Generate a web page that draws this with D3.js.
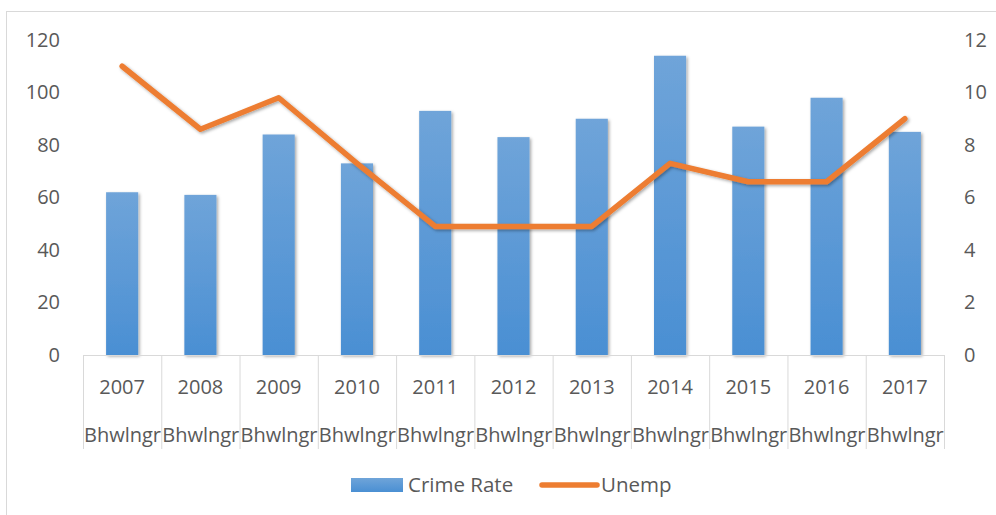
<!DOCTYPE html>
<html>
<head>
<meta charset="utf-8">
<script src="https://cdn.jsdelivr.net/npm/d3@7"></script>
<style>
  body { margin: 0; background: #fff; }
  text { font-family: "Open Sans", "Liberation Sans", sans-serif; fill: #595959; }
</style>
</head>
<body>
<svg width="996" height="515"></svg>
<script>
// chart data
const years = ['2007','2008','2009','2010','2011','2012','2013','2014','2015','2016','2017'];
const place = 'Bhwlngr';
const crimeRate = [62, 61, 84, 73, 93, 83, 90, 114, 87, 98, 85];
const unemp = [11.0, 8.6, 9.8, 7.3, 4.9, 4.9, 4.9, 7.3, 6.6, 6.6, 9.0];
const leftTicks = [0, 20, 40, 60, 80, 100, 120];
const rightTicks = [0, 2, 4, 6, 8, 10, 12];

const svg = d3.select('svg');

// outer chart frame
svg.append('rect')
  .attr('x', 6.5).attr('y', 11.5)
  .attr('width', 1000).attr('height', 520)
  .attr('fill', 'none').attr('stroke', '#d9d9d9');

const defs = svg.append('defs');
const grad = defs.append('linearGradient')
  .attr('id', 'barGrad').attr('x1', 0).attr('y1', 0).attr('x2', 0).attr('y2', 1);
grad.append('stop').attr('offset', '0%').attr('stop-color', '#6fa4d9');
grad.append('stop').attr('offset', '100%').attr('stop-color', '#4a8fd3');

const shadow = defs.append('filter').attr('id', 'shadow')
  .attr('x', '-20%').attr('y', '-20%').attr('width', '150%').attr('height', '150%');
shadow.append('feDropShadow')
  .attr('dx', 1.5).attr('dy', 1.5).attr('stdDeviation', 1.5)
  .attr('flood-color', '#000').attr('flood-opacity', 0.35);

const x = d3.scaleBand()
  .domain(years)
  .range([83, 944])
  .paddingInner(0.59)
  .paddingOuter(0.295);

const xc = d3.scaleBand().domain(years).range([83, 944]);

const y = d3.scaleLinear().domain([0, 120]).range([355, 40]);
const y2 = d3.scaleLinear().domain([0, 12]).range([355, 40]);

// left axis labels
svg.append('g')
  .attr('transform', 'translate(60,0)')
  .call(d3.axisLeft(y).tickValues(leftTicks).tickSize(0).tickPadding(0))
  .call(g => g.select('.domain').remove())
  .selectAll('text').style('font-size', '20px').attr('text-anchor', 'end');

// right axis labels
svg.append('g')
  .attr('transform', 'translate(964,0)')
  .call(d3.axisRight(y2).tickValues(rightTicks).tickSize(0).tickPadding(0))
  .call(g => g.select('.domain').remove())
  .selectAll('text').style('font-size', '20px').attr('text-anchor', 'start');

// bars
svg.append('g').selectAll('rect')
  .data(crimeRate)
  .enter()
  .append('rect')
    .attr('x', (d, i) => x(years[i]))
    .attr('y', d => y(d))
    .attr('width', x.bandwidth())
    .attr('height', d => y(0) - y(d))
    .attr('fill', 'url(#barGrad)')
    .attr('filter', 'url(#shadow)');

// category axis
const cat = svg.append('g');
cat.append('line')
  .attr('x1', 83).attr('x2', 944)
  .attr('y1', y(0) + 0.5).attr('y2', y(0) + 0.5)
  .attr('stroke', '#d9d9d9');
cat.selectAll('line.sep')
  .data(years.concat(['end']))
  .enter()
  .append('line')
    .attr('class', 'sep')
    .attr('x1', (d, i) => 83 + i * xc.bandwidth() + 0.5)
    .attr('x2', (d, i) => 83 + i * xc.bandwidth() + 0.5)
    .attr('y1', y(0)).attr('y2', 449)
    .attr('stroke', '#d9d9d9');
cat.selectAll('text.yr')
  .data(years)
  .enter()
  .append('text')
    .attr('class', 'yr')
    .attr('x', d => xc(d) + xc.bandwidth() / 2)
    .attr('y', 394)
    .attr('text-anchor', 'middle')
    .style('font-size', '20px')
    .text(d => d);
cat.selectAll('text.pl')
  .data(years)
  .enter()
  .append('text')
    .attr('class', 'pl')
    .attr('x', d => xc(d) + 1)
    .attr('y', 442)
    .attr('textLength', 77)
    .attr('lengthAdjust', 'spacingAndGlyphs')
    .style('font-size', '20px')
    .text(place);

// unemployment line
const line = d3.line()
  .x((d, i) => xc(years[i]) + xc.bandwidth() / 2)
  .y(d => y2(d));

svg.append('path')
  .datum(unemp)
  .attr('d', line)
  .attr('fill', 'none')
  .attr('stroke', '#ed7d31')
  .attr('stroke-width', 5.5)
  .attr('stroke-linecap', 'round')
  .attr('stroke-linejoin', 'round')
  .attr('filter', 'url(#shadow)');

// legend
const legend = svg.append('g');
legend.append('rect')
  .attr('x', 351).attr('y', 478)
  .attr('width', 52).attr('height', 14)
  .attr('fill', 'url(#barGrad)');
legend.append('text')
  .attr('x', 408).attr('y', 492)
  .style('font-size', '20.5px')
  .text('Crime Rate');
legend.append('line')
  .attr('x1', 542).attr('x2', 597)
  .attr('y1', 485).attr('y2', 485)
  .attr('stroke', '#ed7d31')
  .attr('stroke-width', 5.5)
  .attr('stroke-linecap', 'round');
legend.append('text')
  .attr('x', 601).attr('y', 492)
  .style('font-size', '20.5px')
  .text('Unemp');
</script>
</body>
</html>
